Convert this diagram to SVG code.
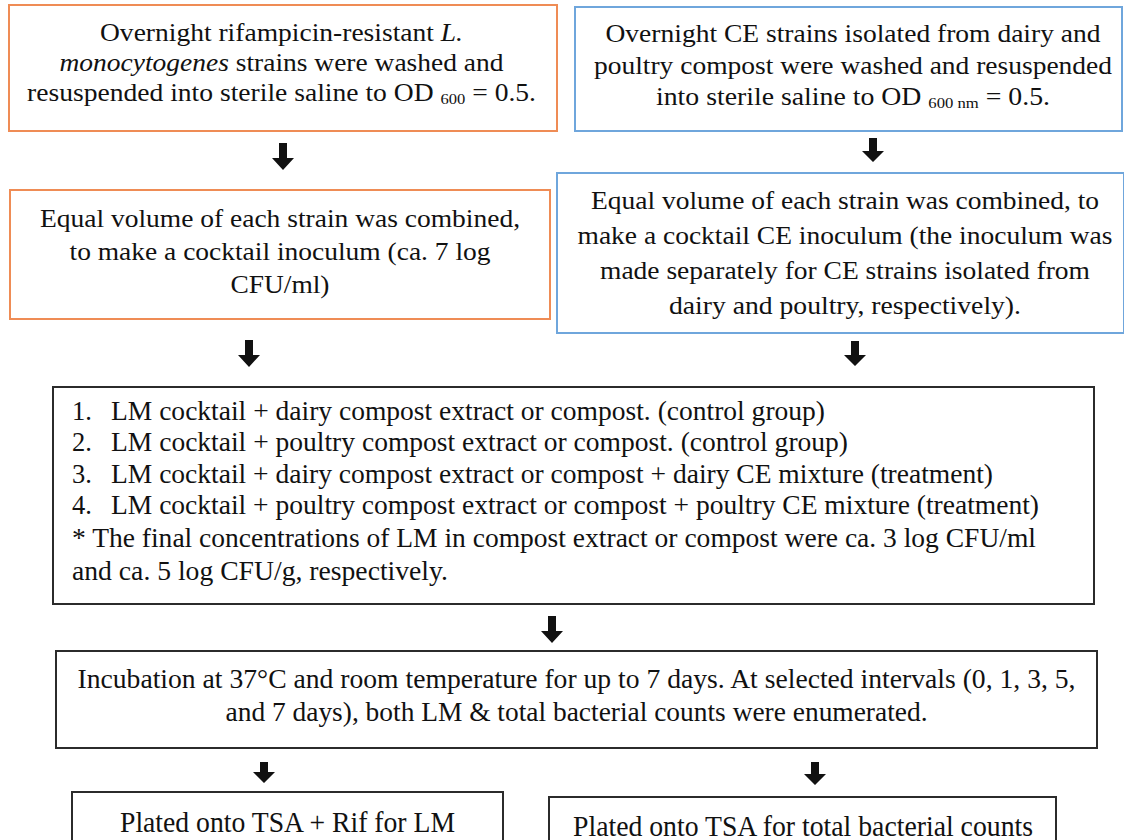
<svg xmlns="http://www.w3.org/2000/svg" width="1124" height="840" viewBox="0 0 1124 840">
<defs>
<style>
.bg{fill:#ffffff}
.or{fill:#ffffff;stroke:#EF8C55;stroke-width:2}
.bl{fill:#ffffff;stroke:#6FA6DC;stroke-width:2}
.bk{fill:#ffffff;stroke:#2b2b2b;stroke-width:2}
text{font-family:"Liberation Serif","Times New Roman",serif;fill:#111111}
.t{font-size:25px}
.m{font-size:26.5px}
.b{font-size:29px}
.c{text-anchor:middle}
.l{text-anchor:start}
.i{font-style:italic}
.sub{font-size:15px}
.arr{fill:#111111}
</style>
</defs>
<rect class="bg" x="0" y="0" width="1124" height="840"/>

<g id="lm-overnight">
<rect class="or" x="9" y="5" width="548" height="126"/>
<text class="t c" x="281.5" y="41" textLength="363" lengthAdjust="spacingAndGlyphs">Overnight rifampicin-resistant <tspan class="i">L.</tspan></text>
<text class="t c" x="281.5" y="71" textLength="444" lengthAdjust="spacingAndGlyphs"><tspan class="i">monocytogenes</tspan> strains were washed and</text>
<text class="t c" x="281.5" y="101" textLength="509" lengthAdjust="spacingAndGlyphs">resuspended into sterile saline to OD <tspan class="sub" dy="3">600</tspan><tspan dy="-3"> = 0.5.</tspan></text>
</g>

<g id="ce-overnight">
<rect class="bl" x="575" y="7" width="547" height="124"/>
<text class="t c" x="853" y="42" textLength="495" lengthAdjust="spacingAndGlyphs">Overnight CE strains isolated from dairy and</text>
<text class="t c" x="853" y="74" textLength="518" lengthAdjust="spacingAndGlyphs">poultry compost were washed and resuspended</text>
<text class="t c" x="853" y="105" textLength="394" lengthAdjust="spacingAndGlyphs">into sterile saline to OD <tspan class="sub" dy="3">600 nm</tspan><tspan dy="-3"> = 0.5.</tspan></text>
</g>

<g id="lm-cocktail">
<rect class="or" x="10" y="190" width="540" height="129"/>
<text class="t c" x="280" y="227" textLength="480" lengthAdjust="spacingAndGlyphs">Equal volume of each strain was combined,</text>
<text class="t c" x="280" y="260" textLength="421" lengthAdjust="spacingAndGlyphs">to make a cocktail inoculum (ca. 7 log</text>
<text class="t c" x="280" y="293" textLength="99" lengthAdjust="spacingAndGlyphs">CFU/ml)</text>
</g>

<g id="ce-cocktail">
<rect class="bl" x="557" y="173" width="567" height="160"/>
<text class="t c" x="845" y="209" textLength="508" lengthAdjust="spacingAndGlyphs">Equal volume of each strain was combined, to</text>
<text class="t c" x="845" y="244" textLength="535" lengthAdjust="spacingAndGlyphs">make a cocktail CE inoculum (the inoculum was</text>
<text class="t c" x="845" y="279" textLength="490" lengthAdjust="spacingAndGlyphs">made separately for CE strains isolated from</text>
<text class="t c" x="845" y="314" textLength="352" lengthAdjust="spacingAndGlyphs">dairy and poultry, respectively).</text>
</g>

<g id="groups">
<rect class="bk" x="53" y="387" width="1041" height="217"/>
<text class="m l" x="72" y="420">1.</text><text class="m l" x="111" y="420" textLength="714" lengthAdjust="spacingAndGlyphs">LM cocktail + dairy compost extract or compost. (control group)</text>
<text class="m l" x="72" y="451">2.</text><text class="m l" x="111" y="451" textLength="737" lengthAdjust="spacingAndGlyphs">LM cocktail + poultry compost extract or compost. (control group)</text>
<text class="m l" x="72" y="483">3.</text><text class="m l" x="111" y="483" textLength="882" lengthAdjust="spacingAndGlyphs">LM cocktail + dairy compost extract or compost + dairy CE mixture (treatment)</text>
<text class="m l" x="72" y="514">4.</text><text class="m l" x="111" y="514" textLength="928" lengthAdjust="spacingAndGlyphs">LM cocktail + poultry compost extract or compost + poultry CE mixture (treatment)</text>
<text class="m l" x="72" y="547" textLength="964" lengthAdjust="spacingAndGlyphs">* The final concentrations of LM in compost extract or compost were ca. 3 log CFU/ml</text>
<text class="m l" x="72" y="580" textLength="376" lengthAdjust="spacingAndGlyphs">and ca. 5 log CFU/g, respectively.</text>
</g>

<g id="incubation">
<rect class="bk" x="56" y="651" width="1041" height="97"/>
<text class="m c" x="576.5" y="688" textLength="998" lengthAdjust="spacingAndGlyphs">Incubation at 37°C and room temperature for up to 7 days. At selected intervals (0, 1, 3, 5,</text>
<text class="m c" x="576.5" y="721" textLength="702" lengthAdjust="spacingAndGlyphs">and 7 days), both LM &amp; total bacterial counts were enumerated.</text>
</g>

<g id="plate-lm">
<rect class="bk" x="72" y="792" width="431" height="60"/>
<text class="b c" x="287.5" y="832" textLength="335" lengthAdjust="spacingAndGlyphs">Plated onto TSA + Rif for LM</text>
</g>

<g id="plate-total">
<rect class="bk" x="549" y="797" width="507" height="60"/>
<text class="b c" x="803" y="836" textLength="460" lengthAdjust="spacingAndGlyphs">Plated onto TSA for total bacterial counts</text>
</g>

<g id="connectors">
<path class="arr" d="M279,143 h8 v15 h7 l-11,12 l-11,-12 h7 z"/>
<path class="arr" d="M869,138 h8 v13 h7 l-11,11 l-11,-11 h7 z"/>
<path class="arr" d="M245,340 h8 v15 h7 l-11,12 l-11,-12 h7 z"/>
<path class="arr" d="M851,341 h8 v14 h7 l-11,11 l-11,-11 h7 z"/>
<path class="arr" d="M548,616 h8 v15 h7 l-11,12 l-11,-12 h7 z"/>
<path class="arr" d="M260,762 h8 v10 h7 l-11,11 l-11,-11 h7 z"/>
<path class="arr" d="M811,762 h8 v12 h7 l-11,11 l-11,-11 h7 z"/>
</g>
</svg>
